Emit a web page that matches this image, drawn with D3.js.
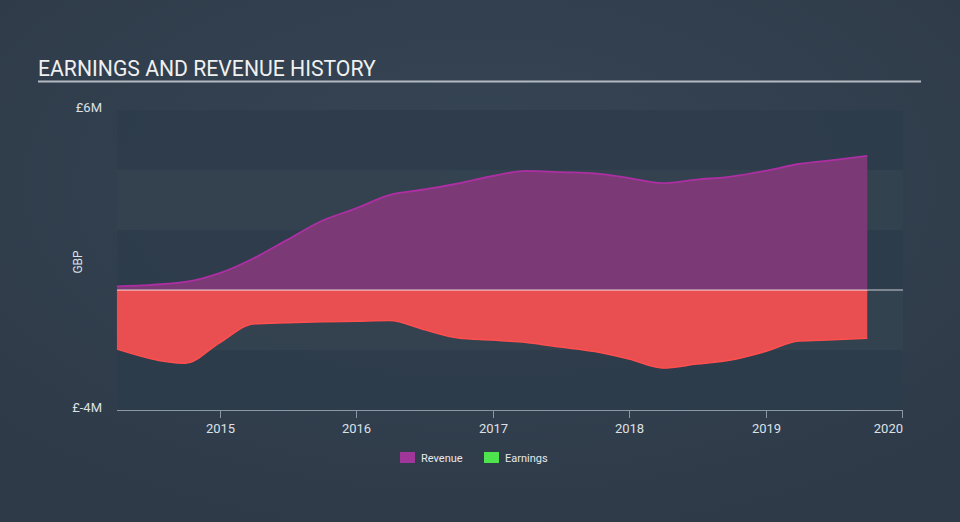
<!DOCTYPE html>
<html><head><meta charset="utf-8">
<script src="https://cdn.jsdelivr.net/npm/d3@7"></script>
<style>
html,body{margin:0;padding:0;background:#323f4e;}
svg{display:block;font-family:Roboto,"Open Sans",sans-serif;}
</style></head>
<body>
<svg id="chart" width="960" height="522"></svg>
<script>
const dates = ["2014-03-31","2014-09-30","2014-12-31","2015-03-31","2015-06-30","2015-09-30","2015-12-31","2016-03-31","2016-06-30","2016-09-30","2016-12-31","2017-03-31","2017-06-30","2017-09-30","2017-12-31","2018-03-31","2018-06-30","2018-09-30","2018-12-31","2019-03-31","2019-06-30","2019-09-30"];
const revenue = [0.12,0.27,0.56,1.05,1.67,2.3,2.72,3.17,3.35,3.55,3.8,3.97,3.93,3.89,3.73,3.56,3.68,3.78,3.97,4.2,4.33,4.47];
const earnings = [-1.97,-2.44,-1.76,-1.13,-1.09,-1.06,-1.04,-1.02,-1.32,-1.6,-1.67,-1.75,-1.9,-2.05,-2.3,-2.6,-2.47,-2.33,-2.05,-1.7,-1.66,-1.61];
const yTicks = [6,-4];
const xTickYears = [2015,2016,2017,2018,2019,2020];
const title = "EARNINGS AND REVENUE HISTORY";
const seriesNames = ["Revenue","Earnings"];

(function(){
const parse = d3.timeParse("%Y-%m-%d");
const data = dates.map((d,i)=>({date:parse(d),rev:revenue[i],earn:earnings[i]}));

const svg = d3.select("#chart");
const W=960,H=522;
const pL=117,pR=903,pT=110,pB=410;

const defs = svg.append("defs");
const rg = defs.append("radialGradient").attr("id","bg").attr("cx","50%").attr("cy","35%").attr("r","70%");
rg.append("stop").attr("offset","0%").attr("stop-color","#364555");
rg.append("stop").attr("offset","100%").attr("stop-color","#2e3a48");
svg.append("rect").attr("width",W).attr("height",H).attr("fill","url(#bg)");

const x = d3.scaleTime().domain([new Date(2015,0,1), new Date(2020,0,1)]).range([220,902]);
const y = d3.scaleLinear().domain([-4,6]).range([pB,pT]);

const bandEdges = [6,4,2,0,-2,-4];
for(let i=0;i<bandEdges.length-1;i++){
  svg.append("rect").attr("x",pL).attr("width",pR-pL)
    .attr("y",y(bandEdges[i])).attr("height",y(bandEdges[i+1])-y(bandEdges[i]))
    .attr("fill", i%2===0 ? "#2e3c4b" : "#344350").attr("opacity",0.9);
}

svg.append("text").attr("x",38).attr("y",76).attr("fill","#f0f0f0")
  .attr("font-size",21.2).attr("font-family","Roboto").text(title);
svg.append("line").attr("x1",38).attr("x2",921).attr("y1",81.5).attr("y2",81.5)
  .attr("stroke","#b4bac2").attr("stroke-width",2);

const curve = d3.curveMonotoneX;
svg.append("path").datum(data)
  .attr("d", d3.area().x(d=>x(d.date)).y0(y(0)).y1(d=>y(d.rev)).curve(curve))
  .attr("fill","#7b3a76");
svg.append("path").datum(data)
  .attr("d", d3.line().x(d=>x(d.date)).y(d=>y(d.rev)).curve(curve))
  .attr("fill","none").attr("stroke","#ad2fa3").attr("stroke-width",1.8);
svg.append("path").datum(data)
  .attr("d", d3.area().x(d=>x(d.date)).y0(y(0)).y1(d=>y(d.earn)).curve(curve))
  .attr("fill","#e94f51");
svg.append("path").datum(data)
  .attr("d", d3.line().x(d=>x(d.date)).y(d=>y(d.earn)).curve(curve))
  .attr("fill","none").attr("stroke","#ff4f4f").attr("stroke-width",1.5);

svg.append("line").attr("x1",pL).attr("x2",pR).attr("y1",y(0)).attr("y2",y(0))
  .attr("stroke","#e8e8ec").attr("stroke-width",1).attr("opacity",0.85);
svg.append("line").attr("x1",pL).attr("x2",x(data[data.length-1].date)).attr("y1",y(0)+0.5).attr("y2",y(0)+0.5)
  .attr("stroke","#f59a9a").attr("stroke-width",1.2);

const xAxisG = svg.append("g").attr("transform",`translate(0,${pB})`);
xAxisG.append("line").attr("x1",pL).attr("x2",pR).attr("y1",0.5).attr("y2",0.5)
  .attr("stroke","#8b97a5").attr("stroke-width",1);
const xt = xTickYears.map(yr=>new Date(yr,0,1));
xAxisG.selectAll("g.tick").data(xt).enter().append("g").attr("class","tick")
  .attr("transform",d=>`translate(${Math.round(x(d))+0.5},0)`)
  .each(function(d,i){
    const g=d3.select(this);
    g.append("line").attr("y1",0).attr("y2",8).attr("stroke","#8b97a5");
    const last = i===xt.length-1;
    g.append("text").attr("y",23).attr("x",last?0.5:0)
      .attr("text-anchor", last?"end":"middle")
      .attr("fill","#dde1e6").attr("font-size",13).text(d.getFullYear());
  });

yTicks.forEach(v=>{
  svg.append("text").attr("x",102).attr("y",y(v)+2).attr("text-anchor","end")
    .attr("fill","#dde1e6").attr("font-size",13)
    .text("£"+v+"M");
});
svg.append("text").attr("transform","translate(82,262) rotate(-90)")
  .attr("text-anchor","middle").attr("fill","#dde1e6").attr("font-size",12).text("GBP");

const legColors = ["#a0369a","#4ee44e"];
const legX = [400,484];
seriesNames.forEach((n,i)=>{
  svg.append("rect").attr("x",legX[i]).attr("y",452).attr("width",15).attr("height",11).attr("fill",legColors[i]);
  svg.append("text").attr("x",legX[i]+21).attr("y",462).attr("fill","#e6e8eb")
    .attr("font-size",11).attr("font-family","Roboto").text(n);
});
})();
</script>
</body></html>
